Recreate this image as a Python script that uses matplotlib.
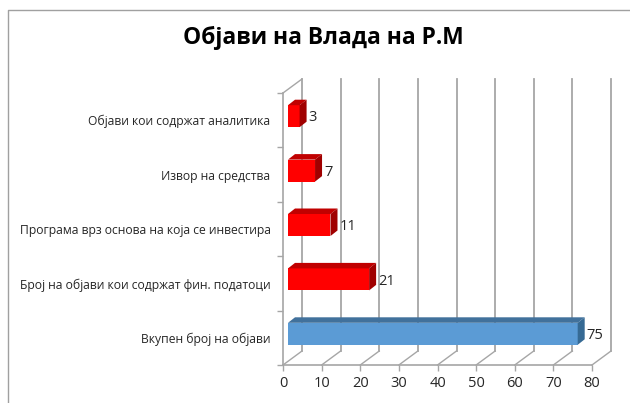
#!/usr/bin/env python3
"""Fake 3D horizontal bar chart, Објави на Влада на Р.М."""

import matplotlib
matplotlib.use("Agg")
import matplotlib.pyplot as plt
from matplotlib.lines import Line2D
from matplotlib.patches import Polygon

W, H = 630, 403

categories = [
    "Вкупен број на објави",
    "Број на објави кои содржат фин. податоци",
    "Програма врз основа на која се инвестира",
    "Извор на средства",
    "Објави кои содржат аналитика",
]
values = [75, 21, 11, 7, 3]
front_colors = ["#5b9bd5", "#ff0000", "#ff0000", "#ff0000", "#ff0000"]
top_colors = ["#41719c", "#c00000", "#c00000", "#c00000", "#c00000"]
side_colors = ["#366a94", "#a00000", "#a00000", "#a00000", "#a00000"]
x_ticks = [0, 10, 20, 30, 40, 50, 60, 70, 80]

plt.rcParams["font.family"] = ["Open Sans", "DejaVu Sans"]

fig = plt.figure(figsize=(W / 100, H / 100), dpi=100)
# plot box is the front plane of the 3D floor
ax = fig.add_axes([283 / W, 1 - 365 / H, (592 - 283) / W, (365 - 93) / H])
ax.set_xlim(0, 80)
ax.set_ylim(0, 5)

# depth of the chart box and of the bars, in data units
wall_dx, wall_dy = 19 / 3.8625, 14 / 54.4
bar_dx, bar_dy = 5 / 3.8625, 4 / 54.4
depth_dx, depth_dy = 7 / 3.8625, 5.5 / 54.4

GRID = "#a6a6a6"
for v in x_ticks:
    ax.plot([v + wall_dx, v + wall_dx], [wall_dy, 5 + wall_dy], color=GRID, lw=1.3, clip_on=False, zorder=1)
    ax.plot([v, v + wall_dx], [0, wall_dy], color=GRID, lw=1, clip_on=False, zorder=1)
ax.plot([0, wall_dx], [5, 5 + wall_dy], color=GRID, lw=1, clip_on=False, zorder=1)

height = 22 / 54.4
for i, val in enumerate(values):
    y0 = i + 0.5 - height / 2 + bar_dy
    ax.barh(y0, val, height=height, left=bar_dx, align="edge", color=front_colors[i],
            clip_on=False, zorder=3)
    x0, x1 = bar_dx, bar_dx + val
    y1 = y0 + height
    ax.add_patch(Polygon([(x0, y1), (x1, y1), (x1 + depth_dx, y1 + depth_dy), (x0 + depth_dx, y1 + depth_dy)],
                         color=top_colors[i], lw=0, clip_on=False, zorder=3))
    ax.add_patch(Polygon([(x1, y0), (x1 + depth_dx, y0 + depth_dy), (x1 + depth_dx, y1 + depth_dy), (x1, y1)],
                         color=side_colors[i], lw=0, clip_on=False, zorder=3))
    ax.text(x1 + depth_dx + 0.5, y0 + height / 2 - 0.03, str(val), ha="left", va="center",
            fontsize=10.5, color="#262626", zorder=4)

for name in ("top", "right"):
    ax.spines[name].set_visible(False)
for name in ("left", "bottom"):
    ax.spines[name].set_color(GRID)
    ax.spines[name].set_linewidth(1.2)

ax.set_xticks(x_ticks)
ax.set_yticks(range(6))
ax.set_yticks([i + 0.5 for i in range(5)], minor=True)
ax.set_yticklabels([])
ax.set_yticklabels(categories, minor=True)
ax.tick_params(axis="y", which="major", length=4, color=GRID, width=1)
ax.tick_params(axis="y", which="minor", length=0, pad=9, labelsize=8.7, labelcolor="#262626")
ax.tick_params(axis="x", length=4, color=GRID, width=1, labelsize=10.5, labelcolor="#262626", pad=4)

fig.text(323 / W, 1 - 38 / H, "Објави на Влада на Р.М", ha="center", va="center",
         fontsize=16.4, fontweight="bold", color="black")

# only the left and top edges of the outer frame are visible
fig.add_artist(Line2D([7.5 / W, 7.5 / W, 1], [0, 1 - 10 / H, 1 - 10 / H], transform=fig.transFigure,
                      color="#a0a0a0", lw=1))

fig.savefig("out.png", dpi=100)
